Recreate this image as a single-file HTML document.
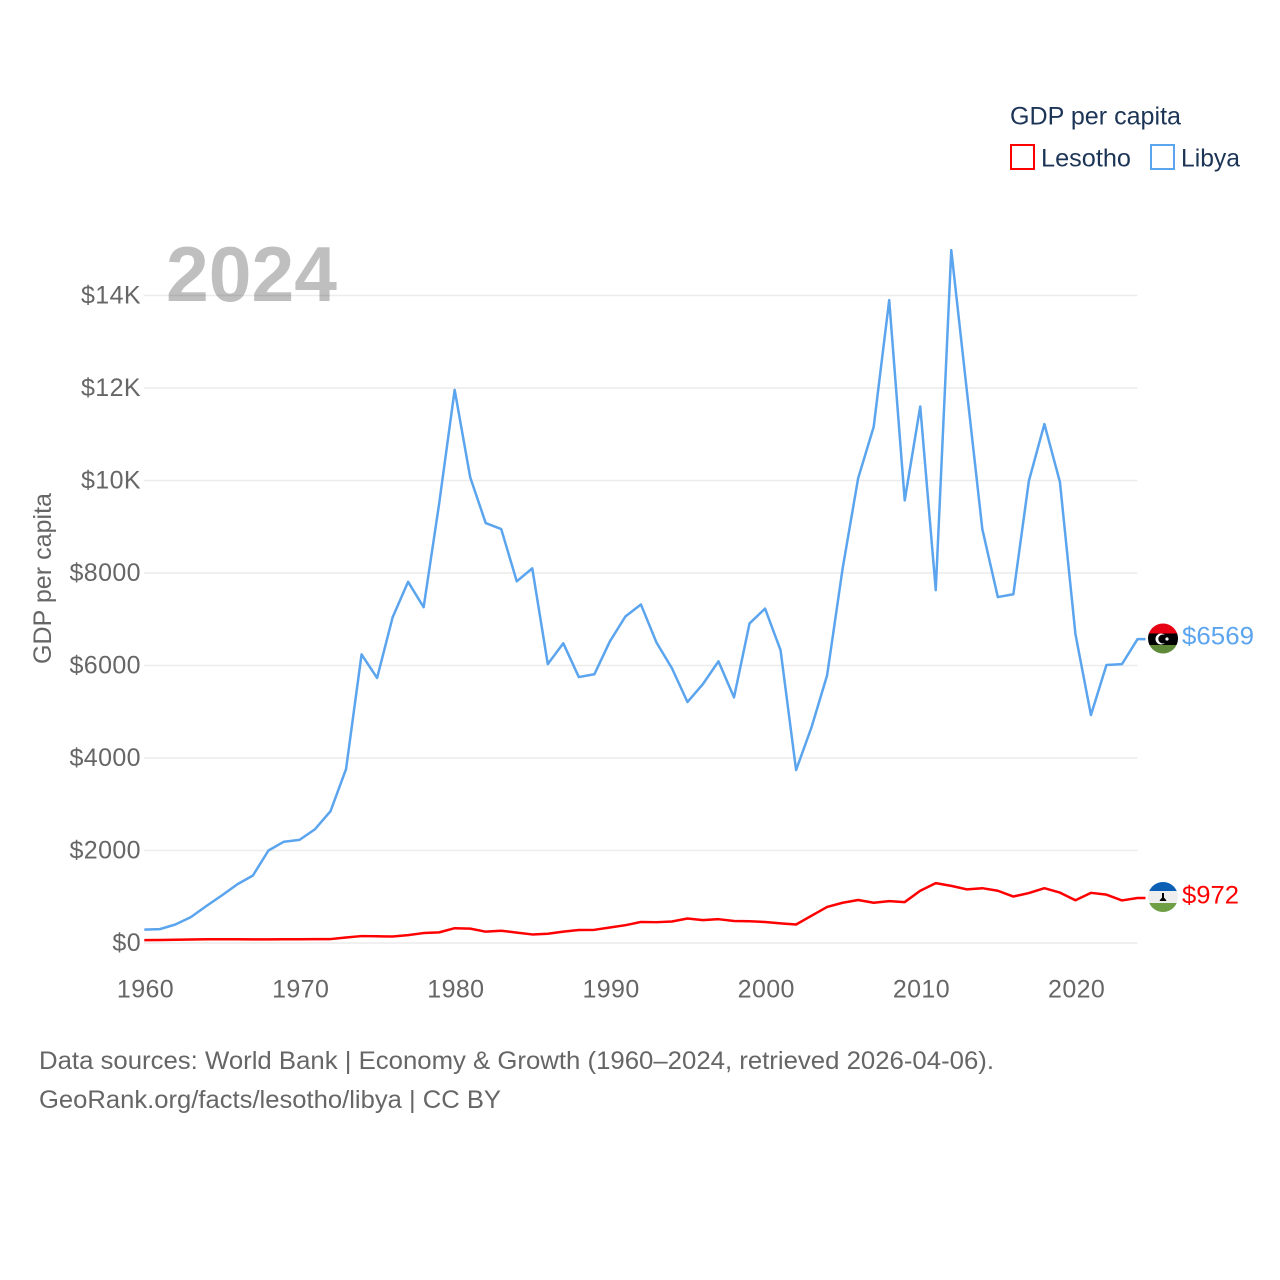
<!DOCTYPE html>
<html lang="en">
<head>
<meta charset="utf-8">
<title>GDP per capita: Lesotho and Libya</title>
<style>
html,body{margin:0;padding:0;background:#fff;}
svg{display:block;}
text{font-family:"Liberation Sans",sans-serif;}
</style>
</head>
<body>
<svg id="chart" width="1280" height="1280" viewBox="0 0 1280 1280" xmlns="http://www.w3.org/2000/svg">
  <defs>
    <clipPath id="libya-clip"><circle cx="1163" cy="638.5" r="15"/></clipPath>
    <clipPath id="lesotho-clip"><circle cx="1163" cy="897" r="15"/></clipPath>
  </defs>
  <g id="grid"></g>
  <text x="166" y="301" font-size="78" font-weight="700" fill="#000" fill-opacity="0.25" textLength="171" lengthAdjust="spacingAndGlyphs">2024</text>
  <g id="y-ticks"></g>
  <g id="x-ticks"></g>
  <text transform="translate(51,664) rotate(-90)" font-size="25" fill="#666" textLength="171" lengthAdjust="spacingAndGlyphs">GDP per capita</text>
  <g id="series"></g>

  <g clip-path="url(#libya-clip)">
    <rect x="1148" y="623" width="30" height="10.5" fill="#e70013"/>
    <rect x="1148" y="633.5" width="30" height="11.5" fill="#000"/>
    <rect x="1148" y="645" width="30" height="9" fill="#5e8a3a"/>
    <circle cx="1161" cy="639" r="5.5" fill="#fff"/>
    <circle cx="1162.8" cy="639" r="4.5" fill="#000"/>
    <circle cx="1167" cy="639" r="1.6" fill="#fff"/>
  </g>
  <g clip-path="url(#lesotho-clip)">
    <rect x="1148" y="882" width="30" height="9" fill="#0b5fb5"/>
    <rect x="1148" y="891" width="30" height="12" fill="#eeeeee"/>
    <rect x="1148" y="903" width="30" height="9" fill="#6f9f45"/>
    <rect x="1162" y="893" width="2" height="5" fill="#000"/>
    <path d="M1159.5 901 Q1163 894 1166.5 901 Z" fill="#000"/>
  </g>

  <text x="1182" y="644.5" font-size="25" fill="#5ba4ee" textLength="72" lengthAdjust="spacingAndGlyphs">$6569</text>
  <text x="1182" y="903.5" font-size="25" fill="#ff0000" textLength="57" lengthAdjust="spacingAndGlyphs">$972</text>

  <text x="1010" y="124.5" font-size="25" fill="#1c3557" textLength="171" lengthAdjust="spacingAndGlyphs">GDP per capita</text>
  <rect x="1011" y="145" width="23" height="24" fill="none" stroke="#ff0000" stroke-width="2"/>
  <text x="1041" y="166.5" font-size="25" fill="#1c3557" textLength="90" lengthAdjust="spacingAndGlyphs">Lesotho</text>
  <rect x="1151" y="145" width="23" height="24" fill="none" stroke="#5ba4ee" stroke-width="2"/>
  <text x="1181" y="166.5" font-size="25" fill="#1c3557" textLength="59" lengthAdjust="spacingAndGlyphs">Libya</text>

  <text x="39" y="1069" font-size="25" fill="#666" textLength="955" lengthAdjust="spacingAndGlyphs">Data sources: World Bank | Economy &amp; Growth (1960–2024, retrieved 2026-04-06).</text>
  <text x="39" y="1108" font-size="25" fill="#666" textLength="462" lengthAdjust="spacingAndGlyphs">GeoRank.org/facts/lesotho/libya | CC BY</text>
</svg>
<script>
const startYear = 1960;
const libyaValues = [290,300,400,560,800,1030,1270,1460,2000,2190,2230,2460,2850,3760,6240,5730,7040,7810,7260,9500,11960,10070,9080,8950,7820,8100,6030,6480,5750,5810,6520,7060,7320,6500,5940,5210,5600,6090,5310,6910,7230,6330,3740,4670,5790,8100,10050,11160,13900,9570,11600,7630,14980,11950,8950,7480,7540,9990,11220,9970,6680,4930,6010,6030,6569];
const lesothoValues = [63,65,70,75,80,80,80,78,78,80,80,85,85,120,150,145,140,170,215,230,320,310,245,265,225,185,200,245,280,285,335,385,455,450,465,530,495,515,475,470,455,425,400,590,780,870,930,870,905,885,1130,1295,1235,1160,1185,1130,1005,1080,1185,1090,925,1085,1045,920,972];
const yTickValues = [0,2000,4000,6000,8000,10000,12000,14000];
const yTickLabels = ['$0','$2000','$4000','$6000','$8000','$10K','$12K','$14K'];
const xTickYears = [1960,1970,1980,1990,2000,2010,2020];

const NS = 'http://www.w3.org/2000/svg';
function xScale(year){ return 144.3 + (year - 1960) * (1137.5 - 144.3) / 64; }
function yScale(value){ return 943 - value * (943 - 295.5) / 14000; }
function make(tag, attrs, parent){
  const el = document.createElementNS(NS, tag);
  for (const k in attrs) el.setAttribute(k, attrs[k]);
  parent.appendChild(el);
  return el;
}
const gridG = document.getElementById('grid');
const yG = document.getElementById('y-ticks');
const xG = document.getElementById('x-ticks');
const seriesG = document.getElementById('series');

yTickValues.forEach(function(v, i){
  const line = make('line', {x1:144, x2:1137.5, y1:yScale(v), y2:yScale(v), stroke:'#ececec', 'stroke-width':1.5}, gridG);
  
  
  const t = make('text', {x:141, y:yScale(v)+8, 'text-anchor':'end', 'font-size':25, fill:'#666', 'letter-spacing':0.4}, yG);
  
  
  t.textContent = yTickLabels[i];
});
xTickYears.forEach(function(y){
  const t = make('text', {x:xScale(y)+1.2, y:997.5, 'text-anchor':'middle', 'font-size':25, fill:'#666', 'letter-spacing':0.4}, xG);
  
  
  t.textContent = y;
});
function drawSeries(values, color, name){
  const pts = values.map(function(v, i){ return xScale(startYear + i) + ',' + yScale(v); });
  const last = values[values.length - 1];
  const endX = xScale(startYear + values.length - 1);
  pts.push((endX + 8) + ',' + yScale(last));
  const p = make('polyline', {points:pts.join(' '), fill:'none', stroke:color, 'stroke-width':2.5, 'stroke-linejoin':'round'}, seriesG);
  
  
}
drawSeries(libyaValues, '#5ba4ee', 'libya-line');
drawSeries(lesothoValues, '#ff0000', 'lesotho-line');
</script>
</body>
</html>
